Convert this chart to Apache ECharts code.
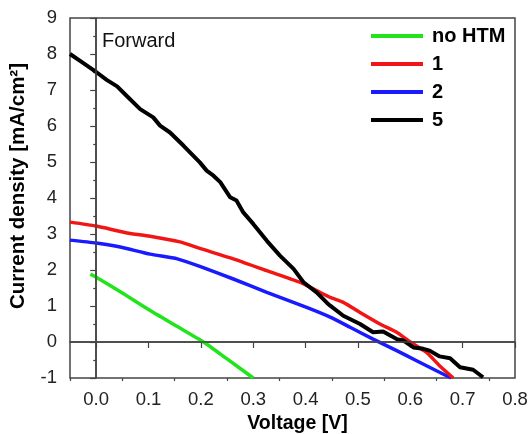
<!DOCTYPE html>
<html>
<head>
<meta charset="utf-8">
<script src="https://cdn.jsdelivr.net/npm/echarts@6/dist/echarts.min.js"></script>
<style>
  html, body { margin: 0; padding: 0; background: #fff; }
  #chart { width: 529px; height: 434px; }
</style>
</head>
<body>
<div id="chart"></div>
<script>
// voltage [V] / current density [mA/cm2]
const vNoHtm = [-0.011, 0, 0.05, 0.1, 0.15, 0.205, 0.25, 0.3]
const jNoHtm = [1.89, 1.8, 1.36, 0.9, 0.47, 0.0, -0.47, -1.0]

const v1 = [-0.05, 0, 0.059, 0.103, 0.16, 0.198, 0.262, 0.326, 0.389, 0.422, 0.447, 0.472, 0.504, 0.542, 0.574, 0.6, 0.631, 0.656, 0.682]
const j1 = [3.33, 3.22, 3.03, 2.94, 2.78, 2.6, 2.31, 1.98, 1.66, 1.42, 1.24, 1.10, 0.82, 0.5, 0.27, 0.0, -0.29, -0.66, -1.0]

const v2 = [-0.05, 0, 0.046, 0.103, 0.155, 0.198, 0.262, 0.326, 0.402, 0.447, 0.485, 0.529, 0.574, 0.612, 0.65, 0.678]
const j2 = [2.83, 2.75, 2.64, 2.44, 2.31, 2.1, 1.75, 1.38, 0.96, 0.69, 0.41, 0.08, -0.24, -0.52, -0.8, -1.0]

const v5 = [-0.05, -0.03, -0.01, 0, 0.02, 0.04, 0.058, 0.084, 0.109, 0.122, 0.141, 0.167, 0.198, 0.211, 0.224, 0.237, 0.256, 0.268, 0.281, 0.3, 0.326, 0.351, 0.377, 0.396, 0.421, 0.44, 0.447, 0.472, 0.504, 0.529, 0.548, 0.574, 0.587, 0.606, 0.625, 0.637, 0.656, 0.676, 0.695, 0.72, 0.739]
const j5 = [8.0, 7.8, 7.6, 7.5, 7.28, 7.1, 6.84, 6.47, 6.24, 6.01, 5.82, 5.45, 4.99, 4.76, 4.62, 4.44, 4.02, 3.93, 3.6, 3.28, 2.81, 2.4, 2.03, 1.66, 1.38, 1.1, 1.01, 0.73, 0.5, 0.27, 0.29, 0.08, 0.04, -0.15, -0.19, -0.24, -0.4, -0.45, -0.7, -0.77, -0.98]

const xMajorTicks = [0, 0.1, 0.2, 0.3, 0.4, 0.5, 0.6, 0.7, 0.8]
const xMinorTicks = [-0.05, 0.05, 0.15, 0.25, 0.35, 0.45, 0.55, 0.65, 0.75]
const legendNames = ['no HTM', '1', '2', '5']

const font = 'Liberation Sans, Arial, sans-serif'
const axisColor = '#444'

function pairs(xs, ys) {
  return xs.map((x, i) => [x, ys[i]])
}

const chart = echarts.init(document.getElementById('chart'))

const options = {
  animation: false,
  textStyle: { fontFamily: font },
  grid: {
    left: 70,
    right: 14,
    top: 18,
    bottom: 56,
    outerBoundsMode: 'none',
    show: true,
    borderColor: axisColor,
    borderWidth: 1.5
  },
  legend: {
    orient: 'vertical',
    left: 371,
    top: 26,
    padding: 0,
    itemWidth: 52,
    itemHeight: 4,
    itemGap: 8,
    icon: 'rect',
    data: legendNames,
    textStyle: {
      fontSize: 20,
      fontWeight: 'bold',
      color: '#000',
      lineHeight: 20,
      padding: [0, 0, 0, 4]
    }
  },
  graphic: [
    {
      type: 'text',
      left: 102,
      top: 31,
      style: { text: 'Forward', fontSize: 20, fontFamily: font, fill: '#111' }
    }
  ],
  xAxis: [
    {
      type: 'value',
      min: -0.05,
      max: 0.8,
      interval: 0.05,
      name: 'Voltage [V]',
      nameLocation: 'middle',
      nameGap: 35,
      nameTextStyle: { fontSize: 19.5, fontWeight: 'bold', color: '#000', padding: [0, 0, 0, 10] },
      axisLine: { lineStyle: { color: axisColor, width: 1.5 } },
      axisTick: { customValues: xMajorTicks, length: 6, lineStyle: { color: axisColor, width: 1.2 } },
      axisLabel: {
        customValues: xMajorTicks,
        margin: 12,
        fontSize: 18.5,
        color: '#222',
        formatter: v => v.toFixed(1)
      },
      splitLine: { show: false }
    },
    {
      type: 'value',
      min: -0.05,
      max: 0.8,
      position: 'bottom',
      axisLine: { show: false },
      axisTick: { customValues: xMinorTicks, length: 3, lineStyle: { color: axisColor, width: 1.2 } },
      axisLabel: { show: false },
      splitLine: { show: false }
    }
  ],
  yAxis: {
    type: 'value',
    min: -1,
    max: 9,
    interval: 1,
    name: 'Current density [mA/cm²]',
    nameLocation: 'middle',
    nameGap: 41,
    nameTextStyle: { fontSize: 20.5, fontWeight: 'bold', color: '#000', padding: [0, 0, 0, 24] },
    axisLine: { show: true, lineStyle: { color: axisColor, width: 1.5 } },
    axisTick: { show: true, length: 6, lineStyle: { color: axisColor, width: 1.2 } },
    minorTick: { show: true, splitNumber: 2, length: 3, lineStyle: { color: axisColor, width: 1.2 } },
    axisLabel: { margin: 13, fontSize: 18.5, color: '#222' },
    splitLine: { show: false }
  },
  series: [
    {
      name: 'no HTM',
      type: 'line',
      data: pairs(vNoHtm, jNoHtm),
      showSymbol: false,
      smooth: 0.2,
      color: '#22e41c',
      lineStyle: { width: 3.5 },
      markLine: {
        silent: true,
        symbol: 'none',
        label: { show: false },
        lineStyle: { color: axisColor, width: 1.5, type: 'solid' },
        data: [{ xAxis: 0 }, { yAxis: 0 }]
      }
    },
    {
      name: '2',
      type: 'line',
      data: pairs(v2, j2),
      showSymbol: false,
      smooth: 0.2,
      color: '#1a1aff',
      lineStyle: { width: 3.5 }
    },
    {
      name: '1',
      type: 'line',
      data: pairs(v1, j1),
      showSymbol: false,
      smooth: 0.2,
      color: '#f21515',
      lineStyle: { width: 3.5 }
    },
    {
      name: '5',
      type: 'line',
      data: pairs(v5, j5),
      showSymbol: false,
      color: '#000',
      lineStyle: { width: 4 }
    }
  ]
}

chart.setOption(options)
window.addEventListener('resize', function() {
  chart.resize()
})
</script>
</body>
</html>
